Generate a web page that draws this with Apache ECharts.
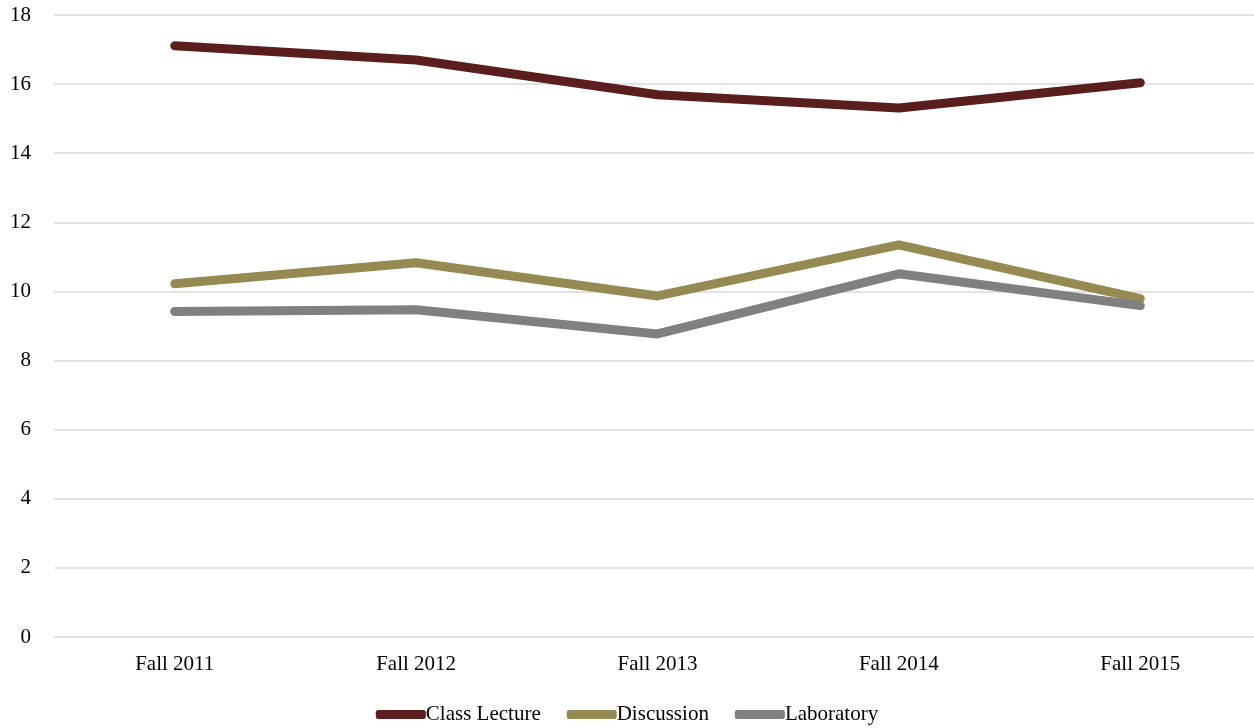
<!DOCTYPE html>
<html>
<head>
<meta charset="utf-8">
<script src="https://cdn.jsdelivr.net/npm/echarts@6/dist/echarts.min.js"></script>
<style>
  html, body { margin: 0; padding: 0; background: #fff; }
  #chart { width: 1254px; height: 728px; }
</style>
</head>
<body>
<div id="chart"></div>
<script>
const terms = ["Fall 2011", "Fall 2012", "Fall 2013", "Fall 2014", "Fall 2015"];
const classLecture = [17.11, 16.7, 15.69, 15.31, 16.04];
const discussion = [10.22, 10.83, 9.87, 11.35, 9.79];
const laboratory = [9.42, 9.47, 8.77, 10.51, 9.59];

const font = "'Liberation Serif', 'DejaVu Serif', serif";
const mkLine = (name, data, color) => ({
  name,
  type: "line",
  data,
  showSymbol: false,
  symbol: "none",
  color,
  lineStyle: { width: 9, color, cap: "round", join: "round" },
});

const chart = echarts.init(document.getElementById("chart"));
chart.setOption({
  animation: false,
  textStyle: { fontFamily: font },
  grid: { left: 54, right: -7, top: 15, bottom: 91, outerBoundsMode: "none", containLabel: false },
  legend: {
    top: 699,
    left: "center",
    itemWidth: 50,
    itemHeight: 9,
    itemGap: 26,
    icon: "roundRect",
    textStyle: { fontFamily: font, fontSize: 21, color: "#000", padding: [0, 0, 0, -5] },
    data: ["Class Lecture", "Discussion", "Laboratory"],
  },
  xAxis: {
    type: "category",
    data: terms,
    boundaryGap: true,
    axisLine: { show: false },
    axisTick: { show: false },
    axisLabel: { color: "#000", fontSize: 21, fontFamily: font, margin: 17 },
  },
  yAxis: {
    type: "value",
    min: 0,
    max: 18,
    interval: 2,
    axisLine: { show: false },
    axisTick: { show: false },
    axisLabel: { color: "#000", fontSize: 21, fontFamily: font, margin: 23 },
    splitLine: { lineStyle: { color: "#d9d9d9", width: 1.5 } },
  },
  series: [
    mkLine("Class Lecture", classLecture, "#5a1e1e"),
    mkLine("Discussion", discussion, "#958a52"),
    mkLine("Laboratory", laboratory, "#808080"),
  ],
});
</script>
</body>
</html>
